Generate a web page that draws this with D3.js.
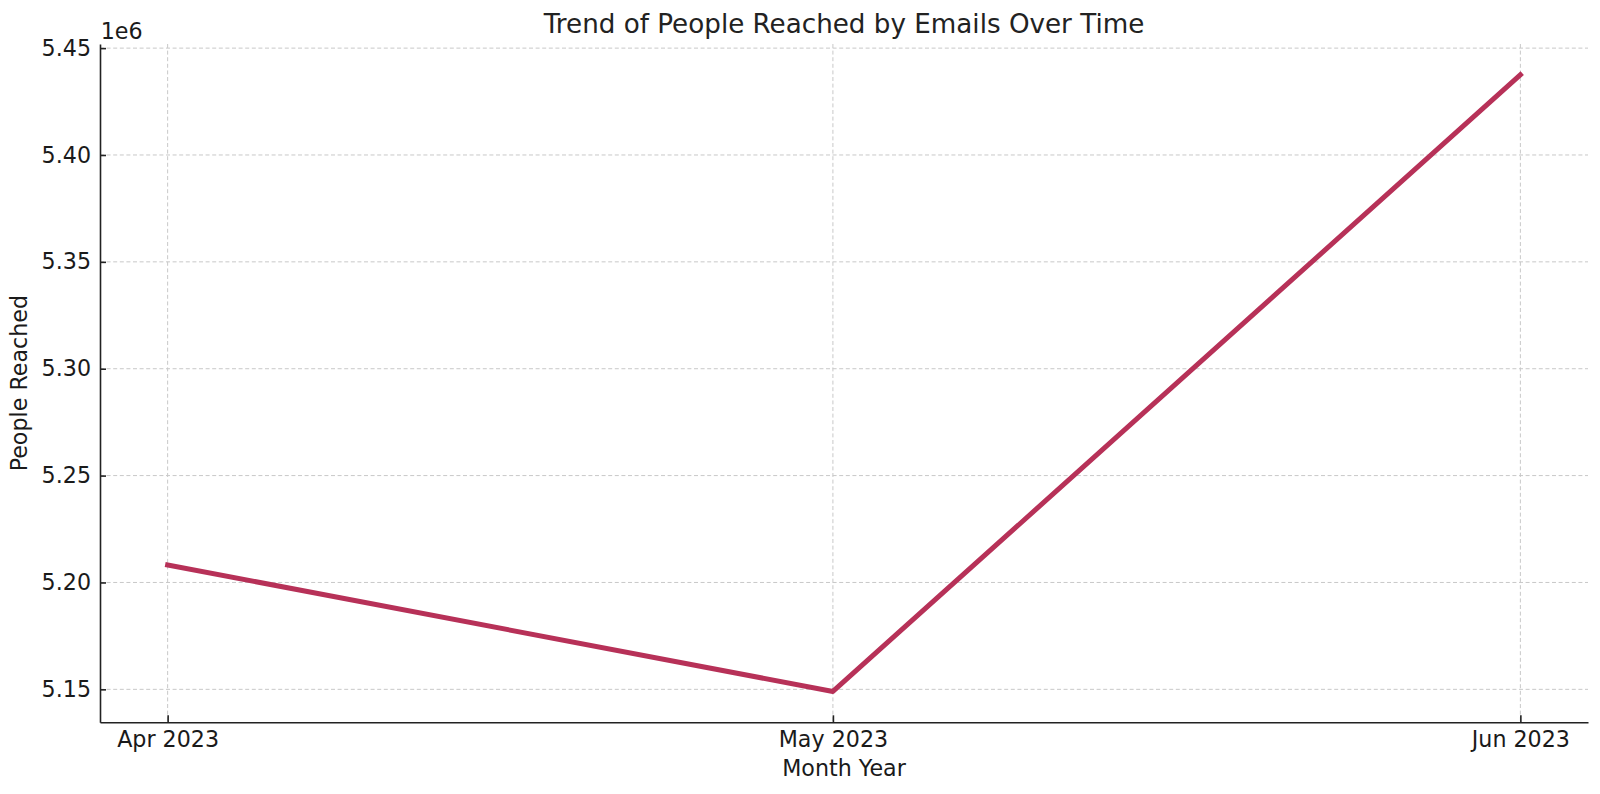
<!DOCTYPE html>
<html>
<head>
<meta charset="utf-8">
<script src="https://cdn.jsdelivr.net/npm/d3@7"></script>
<style>
  html, body { margin: 0; padding: 0; background: #fff; }
  svg { display: block; font-family: "DejaVu Sans", sans-serif; }
</style>
</head>
<body>
<svg id="chart" width="1600" height="794"></svg>
<script>
// ---- data ----
const months = ["2023-04-01", "2023-05-01", "2023-06-01"];
const peopleReached = [5208200, 5149000, 5437500];
const yTicks = [5150000, 5200000, 5250000, 5300000, 5350000, 5400000, 5450000];
const titleText = "Trend of People Reached by Emails Over Time";
const xLabelText = "Month Year";
const yLabelText = "People Reached";
const offsetText = "1e6";

(function () {
const parse = d3.timeParse("%Y-%m-%d");
const data = months.map((m, i) => ({ date: parse(m), value: peopleReached[i] }));

// ---- layout ----
const svg = d3.select("#chart");
const pLeft = 100, pRight = 1588, pTop = 44, pBottom = 722.3;

// matplotlib-like 5% margins
const xExt = d3.extent(data, d => d.date);
const xPad = (xExt[1] - xExt[0]) * 0.05;
const x = d3.scaleTime()
  .domain([new Date(+xExt[0] - xPad), new Date(+xExt[1] + xPad)])
  .range([pLeft, pRight]);

const yExt = d3.extent(data, d => d.value);
const yPad = (yExt[1] - yExt[0]) * 0.05;
const y = d3.scaleLinear()
  .domain([yExt[0] - yPad, yExt[1] + yPad])
  .range([pBottom, pTop]);

// ---- grid ----
const grid = svg.append("g").attr("class", "grid");
grid.selectAll("line.h").data(yTicks).join("line")
  .attr("x1", pLeft).attr("x2", pRight)
  .attr("y1", d => y(d)).attr("y2", d => y(d))
  .attr("stroke", "#c8c8c8").attr("stroke-width", 1)
  .attr("stroke-dasharray", "4,2.6");
grid.selectAll("line.v").data(data).join("line")
  .attr("y1", pTop).attr("y2", pBottom)
  .attr("x1", d => x(d.date)).attr("x2", d => x(d.date))
  .attr("stroke", "#c8c8c8").attr("stroke-width", 1)
  .attr("stroke-dasharray", "4,2.6");

// ---- line ----
const line = d3.line().x(d => x(d.date)).y(d => y(d.value));
svg.append("path")
  .datum(data)
  .attr("d", line)
  .attr("fill", "none")
  .attr("stroke", "#b73158")
  .attr("stroke-width", 5)
  .attr("stroke-linejoin", "round")
  .attr("stroke-linecap", "square");

// ---- axes ----
const xAxis = d3.axisBottom(x)
  .tickValues(data.map(d => d.date))
  .tickFormat(d3.timeFormat("%b %Y"))
  .tickSizeInner(-7).tickSizeOuter(0).tickPadding(8.6);
const gx = svg.append("g").attr("transform", `translate(0,${pBottom})`).call(xAxis);

const yAxis = d3.axisLeft(y)
  .tickValues(yTicks)
  .tickFormat(v => d3.format(".2f")(v / 1e6))
  .tickSizeInner(-6).tickSizeOuter(0).tickPadding(9);
const gy = svg.append("g").attr("transform", `translate(${pLeft},0)`).call(yAxis);

[gx, gy].forEach(g => {
  g.select(".domain").attr("stroke", "#222").attr("stroke-width", 1.6);
  g.selectAll(".tick line").attr("stroke", "#222").attr("stroke-width", 1.6);
  g.selectAll(".tick text")
    .attr("fill", "#1a1a1a")
    .style("font-family", "'DejaVu Sans', sans-serif")
    .style("font-size", "22.2px");
});

// ---- texts ----
svg.append("text")
  .attr("x", pLeft + 0.7).attr("y", 39.3)
  .attr("fill", "#1a1a1a")
  .style("font-size", "22.2px")
  .text(offsetText);

svg.append("text")
  .attr("x", (pLeft + pRight) / 2).attr("y", 33.3)
  .attr("text-anchor", "middle")
  .attr("fill", "#222")
  .style("font-size", "26.2px")
  .text(titleText);

svg.append("text")
  .attr("x", (pLeft + pRight) / 2).attr("y", 776)
  .attr("text-anchor", "middle")
  .attr("fill", "#1a1a1a")
  .style("font-size", "22.2px")
  .text(xLabelText);

svg.append("text")
  .attr("transform", `translate(26.7,${(pTop + pBottom) / 2}) rotate(-90)`)
  .attr("text-anchor", "middle")
  .attr("fill", "#1a1a1a")
  .style("font-size", "22.2px")
  .text(yLabelText);
})();
</script>
</body>
</html>
